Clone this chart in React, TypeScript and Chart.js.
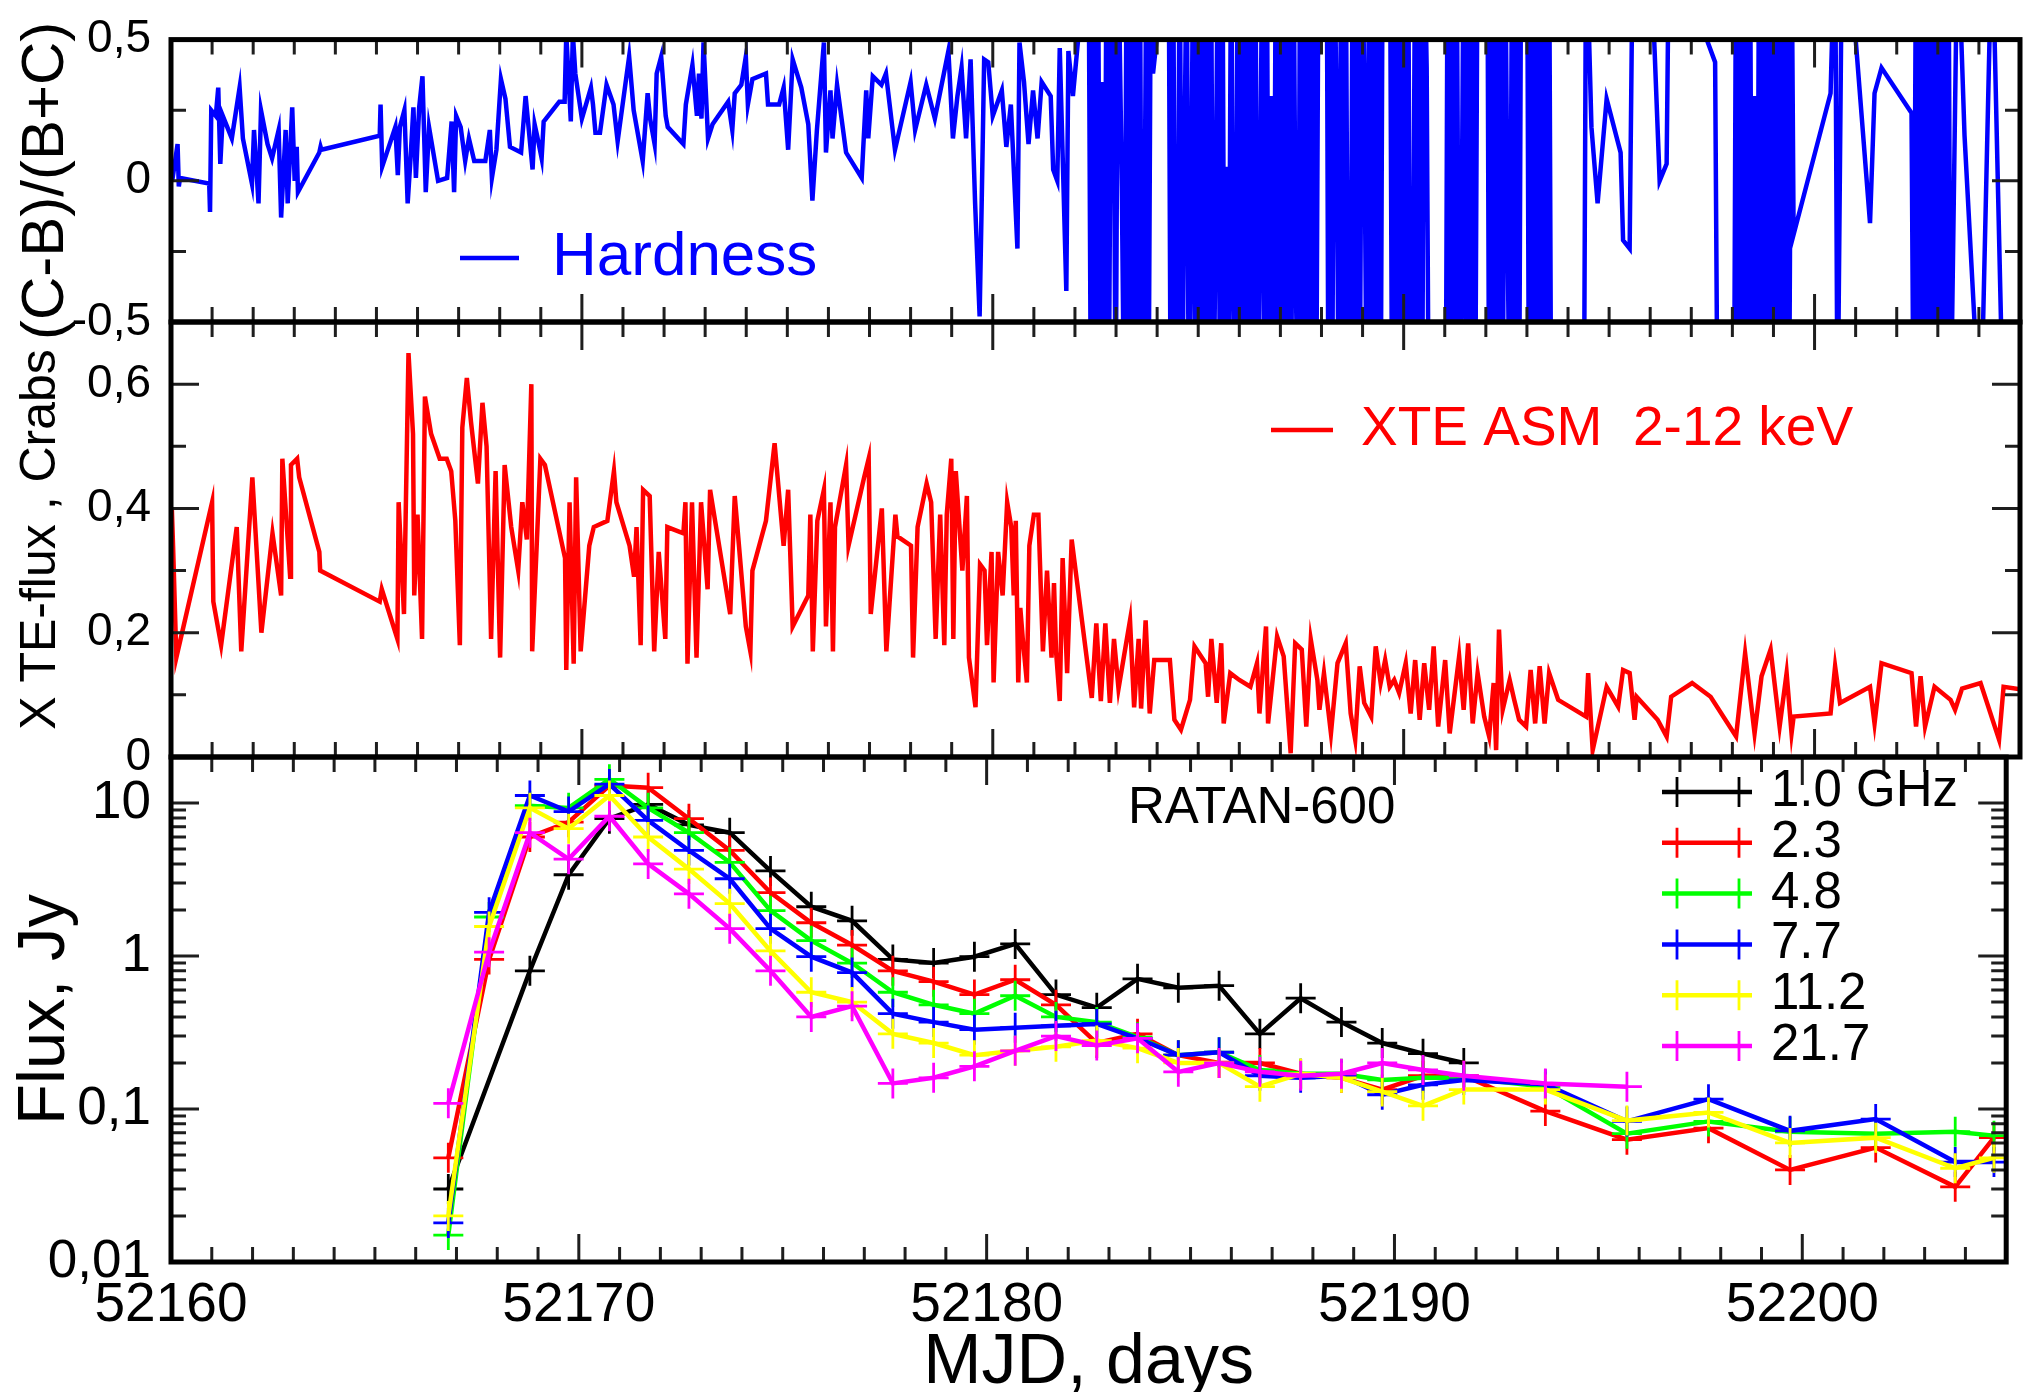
import { useEffect, useRef } from 'react';
import { Chart, registerables } from 'chart.js';

Chart.register(...registerables);

const FONT = "'Liberation Sans', Arial, Helvetica, sans-serif";
const W = 2024;
const H = 1392;

// ---------- axis values ----------
const mjdMin = 52160;
const mjdMax = 52205;
const mjdLabelTicks = [52160, 52170, 52180, 52190, 52200];
const hardnessTicks = [-0.5, 0, 0.5];
const hardnessMinorTicks = [-0.25, 0.25];
const xteTicks = [0, 0.2, 0.4, 0.6];
const xteMinorTicks = [0.1, 0.3, 0.5];
const fluxTicks = [0.01, 0.1, 1, 10];

// ---------- hardness (C-B)/(B+C) ----------
const hardnessDay = [
  52160.03, 52160.16, 52160.19, 52160.22, 52160.93, 52160.95, 52160.98, 52161.09, 52161.15, 52161.20,
  52161.26, 52161.48, 52161.67, 52161.75, 52161.97, 52162.02, 52162.13, 52162.19, 52162.35, 52162.46,
  52162.62, 52162.68, 52162.79, 52162.84, 52162.95, 52163.01, 52163.06, 52163.09, 52163.61, 52163.64,
  52163.66, 52165.08, 52165.10, 52165.14, 52165.46, 52165.52, 52165.57, 52165.68, 52165.76, 52165.83,
  52165.90, 52165.96, 52166.04, 52166.12, 52166.20, 52166.28, 52166.50, 52166.72, 52166.83, 52166.89,
  52166.94, 52167.05, 52167.16, 52167.25, 52167.38, 52167.54, 52167.65, 52167.76, 52167.81, 52167.92,
  52168.03, 52168.14, 52168.25, 52168.52, 52168.63, 52168.80, 52168.85, 52168.91, 52169.02, 52169.07,
  52169.45, 52169.58, 52169.62, 52169.73, 52169.78, 52169.84, 52170.00, 52170.22, 52170.27, 52170.33,
  52170.44, 52170.60, 52170.77, 52170.87, 52171.15, 52171.26, 52171.48, 52171.60, 52171.66, 52171.77,
  52171.82, 52171.93, 52172.04, 52172.09, 52172.47, 52172.53, 52172.69, 52172.80, 52172.85, 52172.91,
  52172.96, 52173.07, 52173.18, 52173.56, 52173.66, 52173.72, 52173.88, 52173.99, 52174.04, 52174.15,
  52174.48, 52174.53, 52174.80, 52174.91, 52175.02, 52175.13, 52175.34, 52175.51, 52175.61, 52175.72,
  52175.89, 52175.94, 52176.05, 52176.10, 52176.21, 52176.43, 52176.81, 52176.92, 52176.97, 52177.08,
  52177.29, 52177.40, 52177.62, 52178.00, 52178.11, 52178.38, 52178.59, 52178.81, 52178.92, 52179.03,
  52179.14, 52179.24, 52179.35, 52179.46, 52179.57, 52179.68, 52179.73, 52179.79, 52179.89, 52180.00,
  52180.22, 52180.33, 52180.44, 52180.60, 52180.65, 52180.76, 52180.87, 52180.98, 52181.09, 52181.19,
  52181.41, 52181.47, 52181.57, 52181.63, 52181.79, 52181.84, 52181.95,
  // irregular, out-of-range part
  52182.33, 52182.39, 52182.45, 52182.50, 52182.56, 52182.62, 52182.66, 52182.71, 52182.77, 52182.82,
  52182.87, 52182.93, 52182.99, 52183.05, 52183.14, 52183.20, 52183.26, 52183.31, 52183.37, 52183.42,
  52183.47, 52183.53, 52183.58, 52183.63, 52183.69, 52183.74, 52183.79, 52183.85, 52183.90, 52184.28,
  52184.33, 52184.39, 52184.44, 52184.50, 52184.55, 52184.61, 52184.66, 52184.72, 52184.77, 52184.82,
  52184.88, 52184.93, 52184.99, 52185.04, 52185.10, 52185.15, 52185.20, 52185.26, 52185.31, 52185.37,
  52185.42, 52185.48, 52185.53, 52185.59, 52185.64, 52185.69, 52185.74, 52185.80, 52185.85, 52185.91,
  52185.96, 52186.02, 52186.07, 52186.13, 52186.18, 52186.24, 52186.29, 52186.34, 52186.39, 52186.45,
  52186.50, 52186.56, 52186.61, 52186.67, 52186.72, 52186.78, 52186.83, 52186.89, 52186.94, 52186.99,
  52187.04, 52187.10, 52187.15, 52187.21, 52187.26, 52187.32, 52187.37, 52187.43, 52187.48, 52187.53,
  52187.58, 52187.64, 52187.69, 52187.75, 52187.81, 52187.87, 52187.93, 52187.98, 52188.12, 52188.17,
  52188.22, 52188.26, 52188.31, 52188.37, 52188.42, 52188.48, 52188.53, 52188.59, 52188.65, 52188.71,
  52188.76, 52188.82, 52188.88, 52188.93, 52188.99, 52189.04, 52189.10, 52189.16, 52189.21, 52189.27,
  52189.33, 52189.38, 52189.44, 52189.49, 52189.66, 52189.72, 52189.77, 52189.83, 52189.89, 52189.94,
  52190.00, 52190.05, 52190.11, 52190.16, 52190.22, 52190.28, 52190.34, 52190.39, 52190.45, 52190.50,
  52190.56, 52190.61, 52190.67, 52190.84, 52191.02, 52191.07, 52191.13, 52191.18, 52191.24, 52191.29,
  52191.35, 52191.40, 52191.46, 52191.52, 52191.57, 52191.63, 52191.69, 52191.74, 52191.80, 52191.85,
  52192.03, 52192.08, 52192.14, 52192.19, 52192.25, 52192.30, 52192.36, 52192.41, 52192.47, 52192.53,
  52192.58, 52192.64, 52192.70, 52192.75, 52192.81, 52192.86, 52193.00, 52193.05, 52193.09, 52193.15,
  52193.20, 52193.26, 52193.31, 52193.37, 52193.43, 52193.48, 52193.54, 52193.59, 52193.65, 52194.38,
  52194.44, 52194.57, 52194.72, 52194.94, 52195.28, 52195.34, 52195.50, 52195.58, 52195.84, 52196.07,
  52196.23, 52196.40, 52196.46, 52196.91, 52197.25, 52197.58, 52197.64, 52197.86, 52198.04, 52198.09,
  52198.15, 52198.20, 52198.26, 52198.31, 52198.37, 52198.43, 52198.48, 52198.54, 52198.60, 52198.65,
  52198.71, 52198.76, 52198.82, 52198.87, 52198.93, 52198.99, 52199.04, 52199.10, 52199.15, 52199.21,
  52199.27, 52199.32, 52199.38, 52199.44, 52199.49, 52200.39, 52200.50, 52200.56, 52200.67, 52200.75,
  52200.84, 52201.35, 52201.46, 52201.63, 52202.36, 52202.41, 52202.47, 52202.53, 52202.58, 52202.64,
  52202.70, 52202.75, 52202.81, 52202.86, 52202.92, 52202.97, 52203.03, 52203.09, 52203.14, 52203.20,
  52203.26, 52203.31, 52203.48, 52203.65, 52204.04, 52204.32, 52204.60, 52204.72,
];
const hardnessRatio = [
  0.00, 0.13, -0.02, 0.01, -0.01, -0.11, 0.25, 0.23, 0.33, 0.06,
  0.23, 0.15, 0.33, 0.15, -0.01, 0.18, -0.08, 0.25, 0.13, 0.08,
  0.18, -0.13, 0.18, -0.08, 0.26, 0.00, 0.12, -0.04, 0.10, 0.12,
  0.11, 0.16, 0.27, 0.05, 0.19, 0.02, 0.19, 0.25, -0.08, 0.08,
  0.26, 0.01, 0.26, 0.37, -0.04, 0.19, 0.00, 0.01, 0.21, -0.04,
  0.23, 0.19, 0.07, 0.15, 0.07, 0.07, 0.07, 0.18, 0.01, 0.11,
  0.36, 0.29, 0.12, 0.10, 0.30, 0.04, 0.20, 0.16, 0.08, 0.21,
  0.28, 0.28, 0.52, 0.21, 0.52, 0.38, 0.22, 0.33, 0.27, 0.17,
  0.17, 0.34, 0.27, 0.14, 0.44, 0.25, 0.07, 0.31, 0.22, 0.13,
  0.38, 0.44, 0.23, 0.19, 0.13, 0.27, 0.41, 0.23, 0.38, 0.22,
  0.49, 0.15, 0.20, 0.28, 0.18, 0.31, 0.34, 0.44, 0.27, 0.36,
  0.38, 0.27, 0.27, 0.33, 0.11, 0.43, 0.33, 0.20, -0.07, 0.18,
  0.49, 0.10, 0.32, 0.15, 0.34, 0.10, 0.01, 0.32, 0.15, 0.37,
  0.34, 0.38, 0.11, 0.35, 0.18, 0.34, 0.22, 0.38, 0.46, 0.15,
  0.30, 0.40, 0.15, 0.43, -0.08, -0.48, -0.08, 0.43, 0.42, 0.23,
  0.32, 0.12, 0.27, -0.24, 0.49, 0.35, 0.13, 0.32, 0.15, 0.35,
  0.30, 0.04, 0.00, 0.47, -0.39, 0.46, 0.30,
  // irregular, out-of-range part
  0.90, -0.90, 0.90, -0.60, 0.90, -0.90, 0.35, -0.90, 0.90, -0.90,
  0.37, 0.90, -0.90, 0.90, -0.02, -0.90, 0.90, -0.90, 0.90, -0.90,
  0.90, -0.90, 0.90, -0.90, -0.30, 0.90, -0.90, 0.90, 0.38, 0.90,
  -0.90, 0.90, -0.90, -0.45, 0.90, -0.90, 0.00, 0.90, -0.90, -0.27,
  0.90, -0.90, 0.90, -0.90, 0.90, -0.90, 0.90, -0.90, 0.90, -0.90,
  -0.20, 0.90, -0.90, 0.90, -0.90, 0.05, -0.90, 0.90, -0.32, -0.90,
  0.90, -0.90, 0.90, -0.90, 0.90, -0.90, 0.90, -0.90, 0.90, -0.90,
  -0.20, 0.90, -0.90, 0.90, -0.90, 0.30, -0.90, 0.90, -0.90, 0.90,
  -0.90, 0.90, -0.90, 0.90, -0.90, 0.90, -0.30, -0.90, 0.90, -0.90,
  0.90, -0.90, 0.90, -0.90, 0.90, -0.90, 0.90, 1.20, 1.20, -0.90,
  0.90, -0.90, 0.90, 0.20, -0.90, 0.90, -0.90, 0.90, -0.90, -0.60,
  0.90, -0.90, 0.90, -0.90, 0.90, 0.35, -0.90, 0.90, -0.90, 0.90,
  -0.90, 0.90, -0.90, 0.90, 1.10, -0.90, 0.90, -0.90, 0.90, -0.90,
  0.90, -0.90, 0.90, -0.90, -0.70, 0.90, -0.90, 0.90, -0.90, 0.90,
  0.40, -0.90, -0.90, -1.20, -1.10, 0.90, -0.90, 0.90, -0.90, 0.90,
  -0.90, -0.45, 0.90, -0.90, 0.90, -0.90, 0.90, -0.90, 0.90, 1.20,
  1.20, -0.90, 0.90, -0.90, 0.90, -0.90, 0.90, -0.90, 0.90, -0.20,
  -0.90, 0.90, -0.90, 0.90, -0.90, 0.90, 1.10, -0.90, 0.90, -0.90,
  0.90, -0.90, 0.90, -0.90, 0.90, -0.90, 0.90, -0.90, -1.30, -1.10,
  0.90, 0.19, -0.08, 0.29, 0.10, -0.21, -0.24, 0.90, 1.20, 0.60,
  0.00, 0.06, 0.90, 1.20, 0.55, 0.42, -0.90, -1.20, -0.90, 0.90,
  -0.90, 0.90, -0.90, 0.90, -0.90, 0.90, -0.90, 0.30, -0.90, 0.90,
  -0.90, 0.90, -0.90, 0.90, -0.90, 0.90, -0.90, 0.90, -0.90, 0.90,
  -0.90, 0.90, -0.90, 0.90, -0.19, 0.31, 0.90, -0.90, 0.90, 1.20,
  0.80, -0.15, 0.31, 0.40, 0.24, -0.90, 0.90, -0.90, 0.90, -0.90,
  0.90, -0.90, 0.90, -0.90, 0.90, -0.90, 0.90, -0.90, 0.90, -0.90,
  0.90, -0.90, 0.90, 0.16, -0.90, 0.90, -0.90, -1.20,
];

// ---------- XTE ASM 2-12 keV flux, Crabs ----------
const xteDay = [
  52160.02, 52160.05, 52160.13, 52161.00, 52161.03, 52161.22, 52161.60, 52161.71, 52161.98, 52162.20,
  52162.47, 52162.68, 52162.71, 52162.90, 52162.92, 52163.07, 52163.12, 52163.61, 52163.63, 52165.08,
  52165.13, 52165.51, 52165.54, 52165.67, 52165.78, 52165.89, 52165.92, 52166.00, 52166.11, 52166.18,
  52166.33, 52166.54, 52166.71, 52166.82, 52166.92, 52167.03, 52167.09, 52167.20, 52167.30, 52167.47,
  52167.58, 52167.68, 52167.79, 52167.90, 52168.01, 52168.12, 52168.28, 52168.45, 52168.55, 52168.66,
  52168.77, 52168.79, 52168.99, 52169.10, 52169.59, 52169.62, 52169.70, 52169.80, 52169.86, 52169.97,
  52170.18, 52170.29, 52170.62, 52170.78, 52170.84, 52171.16, 52171.27, 52171.33, 52171.43, 52171.49,
  52171.65, 52171.76, 52171.87, 52172.03, 52172.08, 52172.47, 52172.52, 52172.57, 52172.68, 52172.79,
  52172.90, 52173.06, 52173.12, 52173.61, 52173.72, 52173.99, 52174.10, 52174.15, 52174.48, 52174.69,
  52174.91, 52175.02, 52175.13, 52175.51, 52175.56, 52175.62, 52175.73, 52175.89, 52175.94, 52176.05,
  52176.11, 52176.16, 52176.43, 52176.49, 52176.87, 52176.98, 52177.03, 52177.30, 52177.41, 52177.63,
  52177.68, 52178.01, 52178.06, 52178.17, 52178.39, 52178.50, 52178.61, 52178.72, 52178.82, 52178.88,
  52178.99, 52179.04, 52179.10, 52179.26, 52179.37, 52179.42, 52179.58, 52179.69, 52179.80, 52179.86,
  52179.97, 52180.02, 52180.13, 52180.24, 52180.35, 52180.45, 52180.51, 52180.56, 52180.62, 52180.67,
  52180.73, 52180.83, 52180.89, 52181.00, 52181.11, 52181.22, 52181.32, 52181.43, 52181.49, 52181.54,
  52181.63, 52181.70, 52181.81, 52181.92, 52182.41, 52182.52, 52182.63, 52182.74, 52182.85, 52182.95,
  52183.06, 52183.34, 52183.44, 52183.55, 52183.61, 52183.72, 52183.82, 52183.93, 52184.31, 52184.42,
  52184.58, 52184.80, 52184.91, 52185.18, 52185.24, 52185.32, 52185.45, 52185.56, 52185.62, 52185.78,
  52186.00, 52186.27, 52186.43, 52186.49, 52186.65, 52186.70, 52186.81, 52186.92, 52187.08, 52187.25,
  52187.36, 52187.52, 52187.63, 52187.74, 52187.90, 52187.95, 52188.06, 52188.23, 52188.39, 52188.59,
  52188.71, 52188.82, 52188.93, 52189.04, 52189.21, 52189.32, 52189.44, 52189.55, 52189.66, 52189.77,
  52189.89, 52190.05, 52190.17, 52190.28, 52190.39, 52190.50, 52190.62, 52190.73, 52190.84, 52191.01,
  52191.12, 52191.35, 52191.46, 52191.57, 52191.68, 52191.80, 52191.96, 52192.08, 52192.19, 52192.25,
  52192.32, 52192.41, 52192.58, 52192.69, 52192.81, 52192.98, 52193.09, 52193.20, 52193.31, 52193.43,
  52193.54, 52193.76, 52194.44, 52194.49, 52194.60, 52194.94, 52195.22, 52195.34, 52195.50, 52195.62,
  52195.67, 52196.18, 52196.40, 52196.51, 52197.02, 52197.47, 52198.09, 52198.31, 52198.54, 52198.71,
  52198.93, 52199.15, 52199.32, 52199.44, 52199.49, 52200.39, 52200.50, 52200.62, 52201.35, 52201.46,
  52201.63, 52202.36, 52202.47, 52202.58, 52202.69, 52202.92, 52203.31, 52203.42, 52203.59, 52204.04,
  52204.49, 52204.60, 52205.09,
];
const xteFlux = [
  0.40, 0.34, 0.16, 0.41, 0.25, 0.18, 0.37, 0.17, 0.45, 0.20,
  0.36, 0.26, 0.48, 0.29, 0.47, 0.48, 0.45, 0.33, 0.30, 0.25,
  0.27, 0.19, 0.41, 0.23, 0.65, 0.52, 0.26, 0.39, 0.19, 0.58,
  0.52, 0.48, 0.48, 0.46, 0.38, 0.18, 0.53, 0.61, 0.54, 0.44,
  0.57, 0.50, 0.19, 0.46, 0.16, 0.47, 0.37, 0.30, 0.41, 0.35,
  0.60, 0.17, 0.48, 0.47, 0.32, 0.14, 0.41, 0.15, 0.45, 0.17,
  0.34, 0.37, 0.38, 0.46, 0.41, 0.34, 0.29, 0.37, 0.18, 0.43,
  0.42, 0.17, 0.33, 0.19, 0.37, 0.36, 0.41, 0.15, 0.41, 0.16,
  0.41, 0.27, 0.43, 0.23, 0.42, 0.21, 0.17, 0.30, 0.38, 0.505,
  0.34, 0.43, 0.21, 0.26, 0.39, 0.17, 0.38, 0.43, 0.21, 0.41,
  0.17, 0.37, 0.47, 0.34, 0.45, 0.48, 0.23, 0.40, 0.17, 0.39,
  0.355, 0.34, 0.16, 0.37, 0.44, 0.41, 0.19, 0.39, 0.18, 0.39,
  0.48, 0.19, 0.46, 0.30, 0.42, 0.16, 0.08, 0.31, 0.30, 0.18,
  0.33, 0.12, 0.33, 0.26, 0.41, 0.37, 0.26, 0.38, 0.12, 0.24,
  0.19, 0.12, 0.34, 0.39, 0.39, 0.17, 0.30, 0.16, 0.28, 0.17,
  0.09, 0.32, 0.135, 0.35, 0.095, 0.215, 0.09, 0.215, 0.087, 0.19,
  0.11, 0.22, 0.08, 0.19, 0.078, 0.22, 0.07, 0.156, 0.156, 0.06,
  0.044, 0.092, 0.178, 0.151, 0.097, 0.19, 0.087, 0.183, 0.054, 0.135,
  0.124, 0.113, 0.151, 0.07, 0.21, 0.054, 0.124, 0.194, 0.162, 0.006,
  0.183, 0.173, 0.049, 0.189, 0.124, 0.076, 0.135, 0.038, 0.151, 0.183,
  0.07, 0.028, 0.146, 0.087, 0.065, 0.178, 0.119, 0.156, 0.113, 0.124,
  0.103, 0.151, 0.07, 0.156, 0.06, 0.151, 0.076, 0.178, 0.049, 0.156,
  0.038, 0.162, 0.076, 0.183, 0.054, 0.135, 0.065, 0.033, 0.119, 0.011,
  0.205, 0.076, 0.124, 0.092, 0.06, 0.049, 0.14, 0.054, 0.146, 0.054,
  0.135, 0.092, 0.065, 0.135, 0.011, 0.113, 0.081, 0.14, 0.135, 0.06,
  0.097, 0.06, 0.033, 0.097, 0.119, 0.097, 0.033, 0.167, 0.038, 0.13,
  0.173, 0.049, 0.135, 0.038, 0.065, 0.07, 0.146, 0.087, 0.113, 0.054,
  0.151, 0.135, 0.049, 0.13, 0.049, 0.113, 0.092, 0.076, 0.11, 0.119,
  0.028, 0.113, 0.108,
];

// ---------- RATAN-600 radio fluxes, Jy ----------
const ratanDay = [
  52166.8, 52167.8, 52168.8, 52169.75, 52170.75, 52171.7, 52172.7, 52173.7, 52174.7, 52175.7,
  52176.7, 52177.7, 52178.7, 52179.7, 52180.7, 52181.7, 52182.7, 52183.7, 52184.7, 52185.7,
  52186.7, 52187.7, 52188.7, 52189.7, 52190.7, 52191.7, 52193.7, 52195.7, 52197.7, 52199.7,
  52201.8, 52203.75, 52204.7,
];
const flux1_0 = [
  0.030, null, 0.80, 3.4, 7.9, 9.8, 7.2, 6.4, 3.6, 2.1,
  1.7, 0.95, 0.90, 0.99, 1.2, 0.56, 0.46, 0.71, 0.62, 0.64,
  0.31, 0.53, 0.37, 0.27, 0.23, 0.20, null, null, null, null,
  null, null, null,
];
const flux2_3 = [
  0.048, 0.95, 6.0, 7.5, 13.0, 12.6, 7.9, 4.9, 2.6, 1.65,
  1.18, 0.80, 0.68, 0.56, 0.70, 0.48, 0.27, 0.31, 0.225, 0.20,
  0.20, 0.17, 0.16, 0.134, 0.165, 0.165, 0.097, 0.063, 0.075, 0.040,
  0.056, 0.031, 0.065,
];
const flux4_8 = [
  0.015, 1.8, 9.6, 9.3, 14.3, 9.3, 6.4, 4.1, 1.98, 1.26,
  0.90, 0.58, 0.48, 0.42, 0.55, 0.40, 0.37, 0.295, 0.225, 0.235,
  0.18, 0.17, 0.17, 0.155, 0.16, 0.16, 0.14, 0.069, 0.083, 0.071,
  0.069, 0.071, 0.067,
];
const flux7_7 = [
  0.018, 1.93, 11.2, 8.8, 13.3, 7.7, 4.9, 3.2, 1.51, 0.99,
  0.78, 0.42, 0.37, 0.33, 0.34, 0.35, 0.36, 0.29, 0.225, 0.235,
  0.165, 0.16, 0.165, 0.124, 0.144, 0.155, 0.145, 0.083, 0.116, 0.072,
  0.086, 0.045, 0.045,
];
const flux11_2 = [
  0.020, 1.56, 9.3, 6.8, 11.2, 6.0, 3.7, 2.2, 1.08, 0.58,
  0.50, 0.31, 0.27, 0.225, 0.24, 0.255, 0.28, 0.25, 0.20, 0.20,
  0.14, 0.17, 0.16, 0.13, 0.105, 0.134, 0.134, 0.084, 0.095, 0.060,
  0.065, 0.041, 0.048,
];
const flux21_7 = [
  0.109, 1.06, 6.4, 4.3, 8.2, 4.0, 2.55, 1.51, 0.80, 0.40,
  0.47, 0.147, 0.16, 0.19, 0.24, 0.30, 0.26, 0.29, 0.175, 0.20,
  0.175, 0.165, 0.17, 0.20, 0.18, 0.165, 0.147, 0.14, null, null,
  null, null, null,
];
const ratanLabels = ['1.0 GHz', '2.3', '4.8', '7.7', '11.2', '21.7'];
const ratanSeries = [flux1_0, flux2_3, flux4_8, flux7_7, flux11_2, flux21_7];
const ratanColors = ['#000000', '#ff0000', '#00ff00', '#0000ff', '#ffff00', '#ff00ff'];

// ---------- layout (pixels) ----------
const PLOT_LEFT = 171;
const PLOT_RIGHT = 2020;
const TOP_PANEL = [33, 322];
const MID_PANEL = [322, 757];
const BOT_PANEL = [757, 1262];

const fmtComma = (v: number) => String(v).replace('.', ',');

function pairs(xs: number[], ys: (number | null)[]) {
  return xs.map((x, i) => ({ x, y: ys[i] }));
}

function frameTicks(yMajor: number[], yMinor: number[]) {
  return {
    id: 'frameTicks',
    afterDraw(chart: any) {
      const { ctx, chartArea: a } = chart;
      const xs = chart.scales.x;
      const ys = chart.scales.y;
      ctx.save();
      ctx.strokeStyle = '#1e1e1e';
      ctx.lineWidth = 3;
      ctx.beginPath();
      for (let d = mjdMin + 1; d < mjdMax; d++) {
        const px = xs.getPixelForValue(d);
        const len = d % 10 === 0 ? 28 : 15;
        ctx.moveTo(px, a.top);
        ctx.lineTo(px, a.top + len);
        ctx.moveTo(px, a.bottom);
        ctx.lineTo(px, a.bottom - len);
      }
      const yTick = (v: number, len: number) => {
        const py = ys.getPixelForValue(v);
        ctx.moveTo(a.left, py);
        ctx.lineTo(a.left + len, py);
        ctx.moveTo(a.right, py);
        ctx.lineTo(a.right - len, py);
      };
      yMajor.forEach((v) => yTick(v, 28));
      yMinor.forEach((v) => yTick(v, 15));
      ctx.stroke();
      ctx.strokeStyle = '#000';
      ctx.lineWidth = 5;
      ctx.strokeRect(a.left, a.top, a.right - a.left, a.bottom - a.top);
      ctx.restore();
    },
  };
}

function yAxisBase(title: string, titleSize: number, titlePad: number, tickSize: number, tickPad: number, ticks: number[]) {
  return {
    afterFit: (s: any) => {
      s.width = PLOT_LEFT;
    },
    afterBuildTicks: (s: any) => {
      s.ticks = ticks.map((v) => ({ value: v }));
    },
    grid: { display: false },
    border: { display: false },
    ticks: {
      color: '#000',
      font: { family: FONT, size: tickSize },
      padding: tickPad,
      autoSkip: false,
      callback: (v: any) => fmtComma(v),
    },
    title: {
      display: true,
      text: title,
      color: '#000',
      font: { family: FONT, size: titleSize, lineHeight: 1.2 },
      padding: { top: titlePad, bottom: 0 },
    },
  };
}

function baseOptions(panel: number[]) {
  return {
    responsive: false,
    animation: false,
    events: [],
    layout: { padding: { top: panel[0], bottom: H - panel[1], left: 0, right: W - PLOT_RIGHT } },
    plugins: { legend: { display: false }, tooltip: { enabled: false } },
  };
}

export default function App() {
  const topRef = useRef<HTMLCanvasElement>(null);
  const midRef = useRef<HTMLCanvasElement>(null);
  const botRef = useRef<HTMLCanvasElement>(null);

  useEffect(() => {
    const charts: any[] = [];

    // ----- top panel: hardness -----
    charts.push(
      new Chart(topRef.current as any, {
        type: 'line',
        data: {
          datasets: [
            {
              label: 'Hardness',
              data: pairs(hardnessDay, hardnessRatio),
              borderColor: '#0000ff',
              borderWidth: 4.5,
              pointRadius: 0,
              tension: 0,
              fill: false,
              clip: 0,
            } as any,
          ],
        },
        options: {
          ...baseOptions(TOP_PANEL),
          scales: {
            x: { type: 'linear', min: mjdMin, max: mjdMax, display: false },
            y: {
              type: 'linear',
              min: -0.5,
              max: 0.5,
              ...yAxisBase('(C-B)/(B+C)', 60, 10, 46, 12, hardnessTicks),
            },
          },
        } as any,
        plugins: [
          frameTicks(hardnessTicks, hardnessMinorTicks),
          {
            id: 'hardnessNote',
            afterDraw(chart: any) {
              const ctx = chart.ctx;
              ctx.save();
              ctx.strokeStyle = '#0000ff';
              ctx.lineWidth = 4.5;
              ctx.beginPath();
              ctx.moveTo(460, 258);
              ctx.lineTo(519, 258);
              ctx.stroke();
              ctx.fillStyle = '#0000ff';
              ctx.font = `62px ${FONT}`;
              ctx.textAlign = 'left';
              ctx.textBaseline = 'middle';
              ctx.fillText('Hardness', 552, 258);
              ctx.restore();
            },
          },
        ],
      } as any)
    );

    // ----- middle panel: XTE ASM flux -----
    charts.push(
      new Chart(midRef.current as any, {
        type: 'line',
        data: {
          datasets: [
            {
              label: 'XTE ASM 2-12 keV',
              data: pairs(xteDay, xteFlux),
              borderColor: '#ff0000',
              borderWidth: 4.5,
              pointRadius: 0,
              tension: 0,
              fill: false,
              clip: 0,
            } as any,
          ],
        },
        options: {
          ...baseOptions(MID_PANEL),
          scales: {
            x: { type: 'linear', min: mjdMin, max: mjdMax, display: false },
            y: {
              type: 'linear',
              min: 0,
              max: 0.7,
              ...yAxisBase('X TE-flux , Crabs', 50, 11, 46, 12, xteTicks),
            },
          },
        } as any,
        plugins: [
          frameTicks(xteTicks, xteMinorTicks),
          {
            id: 'xteNote',
            afterDraw(chart: any) {
              const ctx = chart.ctx;
              ctx.save();
              ctx.strokeStyle = '#ff0000';
              ctx.lineWidth = 4.5;
              ctx.beginPath();
              ctx.moveTo(1271, 430);
              ctx.lineTo(1333, 430);
              ctx.stroke();
              ctx.fillStyle = '#ff0000';
              ctx.font = `55px ${FONT}`;
              ctx.textAlign = 'left';
              ctx.textBaseline = 'middle';
              ctx.fillText('XTE ASM  2-12 keV', 1361, 430);
              ctx.restore();
            },
          },
        ],
      } as any)
    );

    // ----- bottom panel: RATAN-600 -----
    const logMinor: number[] = [];
    fluxTicks.forEach((dec) => {
      for (let k = 2; k <= 9; k++) {
        const v = k * dec;
        if (v <= 20) logMinor.push(v);
      }
    });
    const drawOrder = [5, 4, 3, 2, 1, 0];
    charts.push(
      new Chart(botRef.current as any, {
        type: 'line',
        data: {
          datasets: drawOrder.map((i) => ({
            label: ratanLabels[i],
            data: pairs(ratanDay, ratanSeries[i]),
            borderColor: ratanColors[i],
            borderWidth: 4.5,
            pointStyle: 'cross',
            pointRadius: 15,
            pointBorderWidth: 2.8,
            pointBorderColor: ratanColors[i],
            pointBackgroundColor: ratanColors[i],
            tension: 0,
            fill: false,
            spanGaps: true,
          })) as any,
        },
        options: {
          ...baseOptions(BOT_PANEL),
          layout: { padding: { top: BOT_PANEL[0], bottom: 0, left: 0, right: W - PLOT_RIGHT } },
          scales: {
            x: {
              type: 'linear',
              min: mjdMin,
              max: mjdMax,
              afterBuildTicks: (s: any) => {
                s.ticks = mjdLabelTicks.map((v) => ({ value: v }));
              },
              afterFit: (s: any) => {
                s.height = H - BOT_PANEL[1];
              },
              grid: { display: false },
              border: { display: false },
              ticks: {
                color: '#000',
                font: { family: FONT, size: 55 },
                padding: 3,
                autoSkip: false,
                maxRotation: 0,
                callback: (v: any) => String(v),
              },
              title: {
                display: true,
                text: 'MJD, days',
                color: '#000',
                font: { family: FONT, size: 70, lineHeight: 0.8 },
                padding: { top: 0, bottom: 0 },
              },
            },
            y: {
              type: 'logarithmic',
              min: 0.01,
              max: 20,
              ...yAxisBase('Flux, Jy', 67, 5, 53, 12, fluxTicks),
            },
          },
        } as any,
        plugins: [
          frameTicks(fluxTicks, logMinor),
          {
            id: 'ratanNote',
            afterDraw(chart: any) {
              const ctx = chart.ctx;
              ctx.save();
              ctx.fillStyle = '#000';
              ctx.font = `51px ${FONT}`;
              ctx.textAlign = 'left';
              ctx.textBaseline = 'middle';
              ctx.fillText('RATAN-600', 1128, 809);
              ratanLabels.forEach((lab, i) => {
                const y = 792 + i * 50.8;
                ctx.strokeStyle = ratanColors[i];
                ctx.lineWidth = 4.5;
                ctx.beginPath();
                ctx.moveTo(1662, y);
                ctx.lineTo(1752, y);
                ctx.stroke();
                ctx.lineWidth = 2.8;
                ctx.beginPath();
                [1677, 1739].forEach((cx) => {
                  ctx.moveTo(cx, y - 15);
                  ctx.lineTo(cx, y + 15);
                });
                ctx.stroke();
                ctx.fillStyle = '#000';
                ctx.font = `51px ${FONT}`;
                ctx.fillText(lab, 1771, y);
              });
              ctx.restore();
            },
          },
        ],
      } as any)
    );

    return () => {
      charts.forEach((c) => c.destroy());
    };
  }, []);

  const cStyle: any = { position: 'absolute', left: 0, top: 0, width: W, height: H };
  return (
    <div style={{ position: 'absolute', left: 0, top: 0, width: W, height: H, background: '#fff' }}>
      <canvas ref={topRef} width={W} height={H} style={cStyle} />
      <canvas ref={midRef} width={W} height={H} style={cStyle} />
      <canvas ref={botRef} width={W} height={H} style={cStyle} />
    </div>
  );
}
